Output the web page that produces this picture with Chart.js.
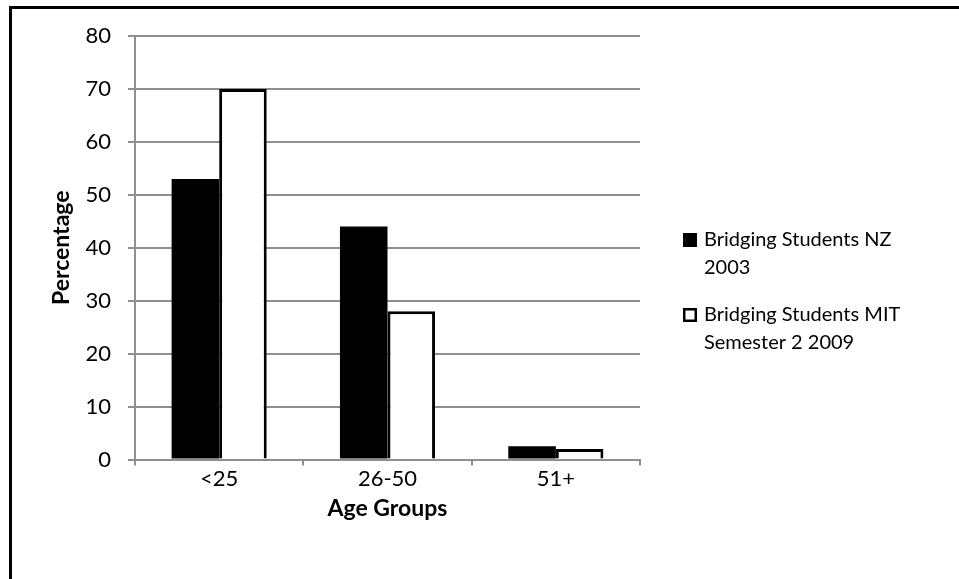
<!DOCTYPE html>
<html>
<head>
<meta charset="utf-8">
<script src="https://cdn.jsdelivr.net/npm/chart.js@4.4.0/dist/chart.umd.min.js"></script>
<style>
  html, body { margin: 0; padding: 0; background: #fff; overflow: hidden; }
  #wrap { position: relative; width: 959px; height: 579px; }
  #frame { position: absolute; left: 9px; top: 6px; width: 1000px; height: 700px;
           border-left: 3px solid #000; border-top: 3px solid #000; pointer-events: none; }
  canvas { position: absolute; left: 0; top: 0; }
</style>
</head>
<body>
<div id="wrap">
  <canvas id="chart" width="959" height="579"></canvas>
  <div id="frame"></div>
</div>
<script>
// Age group categories and survey percentages
const ageGroups = ['<25', '26-50', '51+'];
const nz2003 = [53, 44, 2.5];
const mit2009 = [70, 28, 2];
const seriesNames = [
  ['Bridging Students NZ', '2003'],
  ['Bridging Students MIT', 'Semester 2 2009']
];
const yTicks = { min: 0, max: 80, step: 10 };

const FONT = 'Lato, "Liberation Sans", sans-serif';
const GRID = '#8f8f8f';

// Legend on the right with wrapped, two-line labels
const sideLegend = {
  id: 'sideLegend',
  afterDraw(chart) {
    const ctx = chart.ctx;
    const items = chart.data.datasets;
    const box = 14, x0 = 683, textX = 704, lineGap = 28;
    const starts = [240, 315];
    ctx.save();
    ctx.font = '20px ' + FONT;
    ctx.textBaseline = 'middle';
    items.forEach((ds, i) => {
      const y = starts[i];
      if (ds.backgroundColor === '#000000') {
        ctx.fillStyle = '#000';
        ctx.fillRect(x0, y - box / 2, box, box);
      } else {
        ctx.fillStyle = '#fff';
        ctx.fillRect(x0, y - box / 2, box, box);
        ctx.lineWidth = 2.5;
        ctx.strokeStyle = '#000';
        ctx.strokeRect(x0 + 1.25, y - box / 2 + 1.25, box - 2.5, box - 2.5);
      }
      ctx.fillStyle = '#000';
      ds.legendLines.forEach((t, k) => ctx.fillText(t, textX, y + k * lineGap));
    });
    ctx.restore();
  }
};

new Chart(document.getElementById('chart'), {
  type: 'bar',
  data: {
    labels: ageGroups,
    datasets: [
      {
        label: seriesNames[0].join(' '),
        legendLines: seriesNames[0],
        data: nz2003,
        backgroundColor: '#000000',
        borderColor: '#000000',
        borderWidth: 0
      },
      {
        label: seriesNames[1].join(' '),
        legendLines: seriesNames[1],
        data: mit2009,
        backgroundColor: '#ffffff',
        borderColor: '#000000',
        borderWidth: 3
      }
    ]
  },
  options: {
    responsive: false,
    animation: false,
    devicePixelRatio: 1,
    layout: { padding: { left: 48, top: 36, right: 319, bottom: 57 } },
    datasets: { bar: { categoryPercentage: 0.565, barPercentage: 1 } },
    plugins: {
      legend: { display: false },
      tooltip: { enabled: false }
    },
    scales: {
      x: {
        grid: { offset: true, drawOnChartArea: false, drawTicks: true, tickLength: 6, color: GRID, lineWidth: 2 },
        border: { display: true, color: GRID, width: 2 },
        ticks: { color: '#000', font: { family: FONT, size: 22 }, padding: 0 },
        title: { display: true, text: 'Age Groups', color: '#000',
                 font: { family: FONT, size: 23, weight: 'bold' }, padding: { top: 0, bottom: 0 } },
        afterFit(s) { s.height = 62.5; }
      },
      y: {
        min: yTicks.min,
        max: yTicks.max,
        grid: { color: GRID, lineWidth: 2, drawTicks: true, tickLength: 7 },
        border: { display: true, color: GRID, width: 2 },
        ticks: { stepSize: yTicks.step, color: '#000', font: { family: FONT, size: 22 }, padding: 17 },
        title: { display: true, text: 'Percentage', color: '#000',
                 font: { family: FONT, size: 23, weight: 'bold' }, padding: { top: 0, bottom: 0 } },
        afterFit(s) { s.width = 87; }
      }
    }
  },
  plugins: [sideLegend]
});
</script>
</body>
</html>
